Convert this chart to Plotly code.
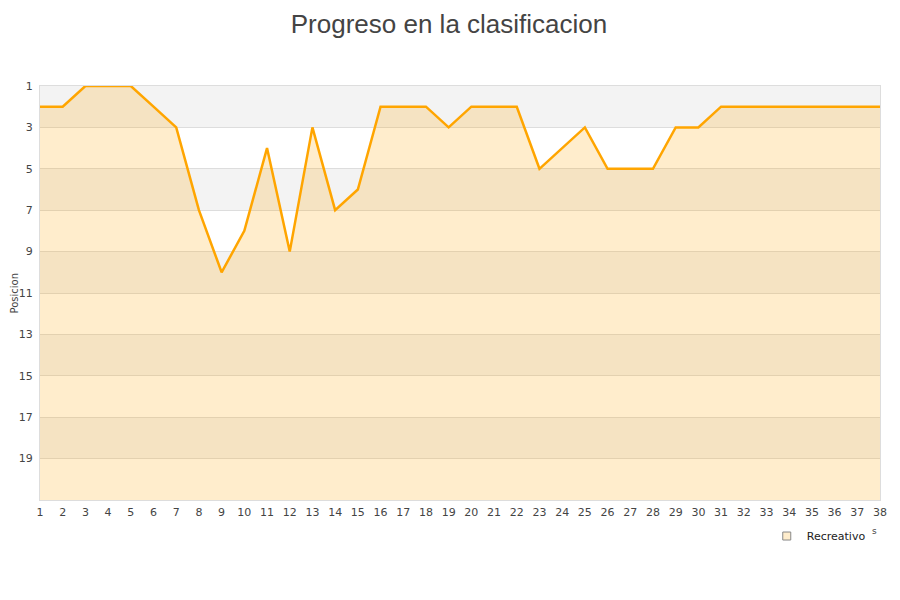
import plotly.graph_objects as go

# Jornadas y posicion del equipo
jornadas = list(range(1, 39))
posicion = [2, 2, 1, 1, 1, 2, 3, 7, 10, 8, 4, 9, 3, 7, 6, 2, 2, 2, 3, 2,
            2, 2, 5, 4, 3, 5, 5, 5, 3, 3, 2, 2, 2, 2, 2, 2, 2, 2]
equipo = 'Recreativo'
y_ticks = [1, 3, 5, 7, 9, 11, 13, 15, 17, 19]
ultimo_puesto = 21

fig = go.Figure()

# linea base para rellenar hasta abajo (eje invertido)
fig.add_trace(go.Scatter(x=jornadas, y=[ultimo_puesto] * len(jornadas),
                         mode='lines', line=dict(width=0), showlegend=False,
                         hoverinfo='skip'))

fig.add_trace(go.Scatter(x=jornadas, y=posicion, mode='lines', name=equipo,
                         line=dict(color='#FFA500', width=2.5),
                         fill='tonexty', fillcolor='rgba(255,165,0,0.2)',
                         showlegend=False))

# entrada de leyenda con cuadrado
fig.add_trace(go.Scatter(x=[None], y=[None], mode='markers', name=equipo,
                         marker=dict(symbol='square', size=8, color='#ffedcc',
                                     line=dict(color='#888', width=1))))

# bandas grises alternas
shapes = []
for y0 in range(1, ultimo_puesto, 4):
    shapes.append(dict(type='rect', xref='paper', yref='y', x0=0, x1=1,
                       y0=y0, y1=y0 + 2, fillcolor='#f3f3f3',
                       line=dict(width=0), layer='below'))

fig.update_layout(
    width=900, height=600,
    title=dict(text='Progreso en la clasificacion', x=0.49, xanchor='center',
               y=0.974, yanchor='middle',
               font=dict(family='Liberation Sans', size=26, color='#444')),
    font=dict(family='DejaVu Sans', size=11, color='#444'),
    plot_bgcolor='white', paper_bgcolor='white',
    margin=dict(l=32, r=28, t=78, b=108),
    shapes=shapes,
    showlegend=True,
    legend=dict(orientation='h', x=0.989, xanchor='right', y=-0.087,
                yanchor='middle', font=dict(size=11, color='#222'),
                bgcolor='rgba(0,0,0,0)', itemwidth=30),
    xaxis=dict(range=[1, 38], tickmode='array', tickvals=jornadas,
               showgrid=False, showline=True, linecolor='#ddd', mirror=True,
               ticks='', zeroline=False, tickfont=dict(size=11),
               ticklabelstandoff=2, automargin=False),
    yaxis=dict(range=[ultimo_puesto, 1], tickmode='array', tickvals=y_ticks,
               showgrid=True, gridcolor='#ddd', showline=True,
               linecolor='#ddd', mirror=True, ticks='', zeroline=False,
               tickfont=dict(size=11), ticklabelstandoff=4,
               automargin=False),
)

# titulo del eje y
fig.add_annotation(text='Posicion', xref='paper', yref='paper', x=-0.0304,
                   y=0.5, textangle=-90, showarrow=False,
                   font=dict(size=10, color='#444'),
                   xanchor='center', yanchor='middle')

fig.add_annotation(text='s', xref='paper', yref='paper', x=0.994, y=-0.075,
                   showarrow=False, font=dict(size=9, color='#444'),
                   xanchor='center', yanchor='middle')

fig.write_html("out.html")
